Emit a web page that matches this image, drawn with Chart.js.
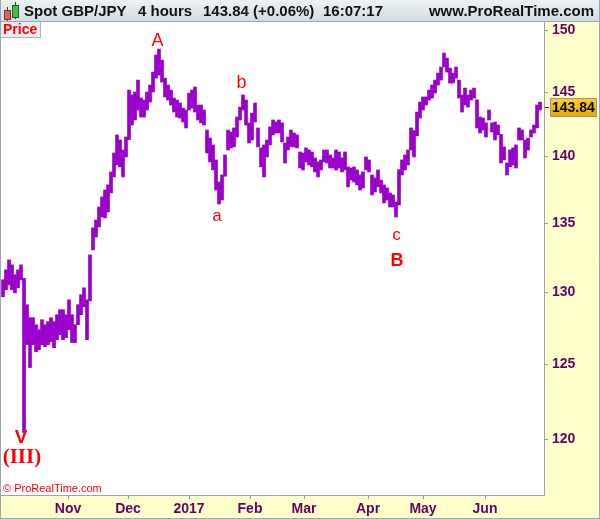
<!DOCTYPE html>
<html>
<head>
<meta charset="utf-8">
<script src="https://cdn.jsdelivr.net/npm/chart.js@4.4.1/dist/chart.umd.min.js"></script>
<style>
body{margin:0;background:#fff;}
#wrap{position:relative;width:600px;height:519px;font-family:"Liberation Sans",Arial,sans-serif;overflow:hidden;}
#c{position:absolute;left:0;top:0;}
#head{position:absolute;left:0;top:0;width:600px;height:22px;box-sizing:border-box;background:linear-gradient(#ecf1f4,#d2dce2);border-bottom:1px solid #98a7b1;border-left:1px solid #98a7b1;border-right:1px solid #98a7b1;font-weight:bold;font-size:15px;color:#111;}
#head span{position:absolute;top:3px;line-height:15px;white-space:nowrap;}
.cr{position:absolute;left:3px;top:10px;width:5px;height:8px;background:#e06060;border:1px solid #803030;}
.cg{position:absolute;left:11px;top:5px;width:5px;height:11px;background:#40c040;border:1px solid #206020;}
.wk{position:absolute;width:1px;background:#333;}
#price{position:absolute;left:1px;top:22px;width:40px;height:16px;box-sizing:border-box;background:#e8eef1;border-right:1px solid #a7b3bb;border-bottom:1px solid #a7b3bb;color:#ff0000;font-weight:bold;font-size:14px;line-height:15px;padding-left:2px;}
#copy{position:absolute;left:3px;top:482px;color:#ff0000;font-size:11px;}
</style>
</head>
<body>
<div id="wrap">
<canvas id="c" width="600" height="519"></canvas>
<div id="head">
  <div class="wk" style="left:6px;top:7px;height:14px"></div>
  <div class="cr"></div>
  <div class="wk" style="left:14px;top:2px;height:17px"></div>
  <div class="cg"></div>
  <span style="left:23px">Spot GBP/JPY</span>
  <span style="left:137px">4 hours</span>
  <span style="left:202px">143.84 (+0.06%)</span>
  <span style="left:322px">16:07:17</span>
  <span style="right:5px">www.ProRealTime.com</span>
</div>
<div id="price">Price</div>
<div id="copy">© ProRealTime.com</div>
</div>
<script>
// GBP/JPY 4h bars, one entry every few bars: high / low
let highs = [
130.90,131.61,132.33,131.97,131.26,131.61,131.97,131.00,129.13,128.22,
128.22,127.73,127.38,128.08,127.73,127.94,128.22,127.94,128.43,128.78,
128.78,128.43,129.48,128.43,127.73,129.13,129.83,130.33,129.48,132.69,
134.66,135.24,136.20,136.95,137.47,137.85,138.83,140.27,141.66,141.27,
140.50,141.50,145.17,144.78,145.01,145.96,144.54,144.38,145.01,145.57,
146.60,147.97,148.45,147.56,146.12,145.57,145.17,144.54,144.38,144.15,
143.75,143.60,144.93,145.17,145.41,143.99,143.99,143.60,142.04,141.42,
140.89,139.74,138.07,138.60,140.12,142.04,141.89,142.20,143.05,143.83,
144.78,144.38,142.59,143.36,144.15,142.20,140.66,140.89,141.27,142.28,
142.82,142.66,142.82,142.59,141.04,141.50,142.04,141.81,141.66,140.35,
140.27,140.66,140.50,140.35,139.89,139.59,139.74,140.50,140.50,140.12,
139.89,140.50,140.35,139.89,140.35,139.21,139.13,139.21,138.98,138.60,
138.83,139.97,139.74,138.60,138.37,138.98,138.22,137.85,137.62,137.25,
137.10,136.57,139.00,139.74,140.12,140.50,142.20,142.00,143.44,144.22,
144.62,144.62,145.17,145.57,145.96,146.52,147.00,148.13,147.72,146.92,
146.52,147.00,145.96,144.78,145.33,144.78,145.17,145.33,144.40,143.05,
142.97,142.59,143.60,142.59,142.66,142.43,141.70,140.74,139.51,140.50,
140.66,140.89,142.20,142.04,141.27,141.42,142.04,142.43,143.99,144.22
];
let lows = [
129.69,130.19,130.54,130.19,129.97,130.33,130.90,120.44,126.35,124.78,
126.35,125.86,126.00,126.35,126.21,126.35,126.55,126.14,126.69,127.04,
126.69,126.83,127.38,126.49,126.49,127.73,128.43,128.99,126.69,129.40,
133.05,133.99,134.73,135.46,135.39,135.83,137.25,138.45,139.36,139.21,
138.45,139.97,141.30,142.43,142.82,143.60,143.05,143.05,143.60,144.22,
145.01,146.12,146.36,145.80,144.62,144.38,143.99,143.44,143.05,142.97,
142.66,142.20,143.60,143.75,143.44,142.82,142.59,142.43,140.27,139.59,
138.98,137.47,136.42,136.72,138.50,140.50,140.66,140.74,141.50,142.82,
143.60,142.43,141.04,141.27,142.66,140.74,139.21,138.45,139.97,140.89,
141.66,141.81,141.81,141.12,139.51,140.50,140.74,140.74,140.66,139.13,
138.98,139.59,139.36,139.21,138.83,138.45,138.98,139.59,139.51,139.13,
139.13,138.98,139.13,138.83,138.98,137.70,138.22,138.07,137.85,137.47,
137.62,138.98,138.83,137.10,137.32,137.70,137.25,136.50,136.72,136.20,
136.20,135.46,136.35,138.60,138.98,139.36,140.50,139.97,141.60,142.97,
143.60,143.99,144.38,144.54,144.93,145.57,145.96,147.00,146.60,145.72,
145.72,146.12,144.54,143.44,143.99,143.83,144.38,144.54,142.20,141.81,
142.04,141.50,142.82,141.89,141.27,141.66,139.51,139.74,138.60,139.21,
139.36,139.13,141.27,141.27,139.89,140.50,141.50,141.81,142.20,143.60
];
let lastClose = 143.84;

// axes
let priceTicks = [120, 125, 130, 135, 140, 145, 150];
let monthLabels = ['Nov', 'Dec', '2017', 'Feb', 'Mar', 'Apr', 'May', 'Jun'];
let monthStarts = [21.67, 41.67, 62, 82.33, 100.33, 121.67, 140, 160.67]; // bar index
let xMin = -0.67, xMax = 180.33;
let yMin = 116.4, yMax = 150.66;

// wave labels: text, bar index, price (baseline)
let noteText  = ['A', 'b', 'a', 'c', 'B', 'V', '(III)'];
let noteBar   = [51.5, 79.5, 71.3, 131.2, 131.3, 6, 6.3];
let notePrice = [148.70, 145.33, 135.17, 133.78, 131.89, 119.72, 118.45];
let noteFont  = ['18px "Liberation Sans"', '18px "Liberation Sans"', '17px "Liberation Sans"',
	'17px "Liberation Sans"', 'bold 18px "Liberation Sans"', 'bold 19px "Liberation Sans"', 'bold 21px "Liberation Serif"'];

let bars = highs.map((h, i) => ({x: i, y: [lows[i], h]}));

const frame = {
	id: 'frame',
	beforeDraw(chart){
		const c = chart.ctx, a = chart.chartArea;
		c.save();
		c.fillStyle = '#ffffcc';
		c.fillRect(0, 0, chart.width, chart.height);
		c.fillStyle = '#ffffff';
		c.fillRect(a.left, a.top, a.right - a.left, a.bottom - a.top);
		c.restore();
	},
	afterDraw(chart){
		const c = chart.ctx, a = chart.chartArea;
		const xs = chart.scales.x, ys = chart.scales.y;
		c.save();
		c.strokeStyle = '#98a7b1';
		c.lineWidth = 1;
		c.beginPath();
		c.moveTo(0.5, 0); c.lineTo(0.5, chart.height);
		c.moveTo(a.right + 0.5, a.top); c.lineTo(a.right + 0.5, a.bottom + 0.5);
		c.moveTo(0, a.bottom + 0.5); c.lineTo(a.right + 0.5, a.bottom + 0.5);
		c.moveTo(chart.width - 0.5, 0); c.lineTo(chart.width - 0.5, chart.height);
		c.moveTo(0, chart.height - 0.5); c.lineTo(chart.width, chart.height - 0.5);
		c.stroke();

		// wave labels
		c.fillStyle = '#ff0000';
		c.textAlign = 'center';
		c.textBaseline = 'alphabetic';
		noteText.forEach((t, i) => {
			c.font = noteFont[i];
			c.fillText(t, xs.getPixelForValue(noteBar[i]), ys.getPixelForValue(notePrice[i]));
		});

		// last price tag
		const py = Math.round(ys.getPixelForValue(lastClose));
		c.strokeStyle = '#660033';
		c.beginPath(); c.moveTo(a.right + 1, py + 0.5); c.lineTo(a.right + 5, py + 0.5); c.stroke();
		const g = c.createLinearGradient(0, py - 9, 0, py + 10);
		g.addColorStop(0, '#ffd21a');
		g.addColorStop(1, '#e8a800');
		c.fillStyle = g;
		c.fillRect(550, py - 9, 47, 19);
		c.strokeStyle = '#8a96a0';
		c.strokeRect(550.5, py - 8.5, 46, 18);
		c.fillStyle = '#000';
		c.font = 'bold 14px "Liberation Sans"';
		c.textAlign = 'left';
		c.textBaseline = 'middle';
		c.fillText(lastClose.toFixed(2), 552, py + 1);
		c.restore();
	}
};

new Chart(document.getElementById('c'), {
	type: 'bar',
	data: {datasets: [{data: bars, backgroundColor: '#9a00cc', borderWidth: 0, barThickness: 3}]},
	options: {
		responsive: false,
		animation: false,
		layout: {padding: {top: 22, left: 1, right: 0, bottom: 0}},
		plugins: {legend: {display: false}, tooltip: {enabled: false}},
		scales: {
			x: {
				type: 'linear', min: xMin, max: xMax, offset: false,
				afterBuildTicks: s => { s.ticks = monthStarts.map(v => ({value: v})); },
				afterFit: s => { s.height = 24; },
				ticks: {autoSkip: false, maxRotation: 0, padding: 2, color: '#660066',
					font: {family: 'Liberation Sans', size: 14, weight: 'bold'},
					callback: (v, i) => monthLabels[i]},
				grid: {drawOnChartArea: false, offset: false, tickLength: 4, color: '#8a96a0'},
				border: {display: false}
			},
			y: {
				type: 'logarithmic', position: 'right', min: yMin, max: yMax,
				afterBuildTicks: s => { s.ticks = priceTicks.map(v => ({value: v})); },
				afterFit: s => { s.width = 56; },
				ticks: {padding: 4, color: '#660066',
					font: {family: 'Liberation Sans', size: 14, weight: 'bold'},
					callback: v => String(v)},
				grid: {drawOnChartArea: false, tickLength: 4, color: '#8a96a0'},
				border: {display: false}
			}
		}
	},
	plugins: [frame]
});
</script>
</body>
</html>
